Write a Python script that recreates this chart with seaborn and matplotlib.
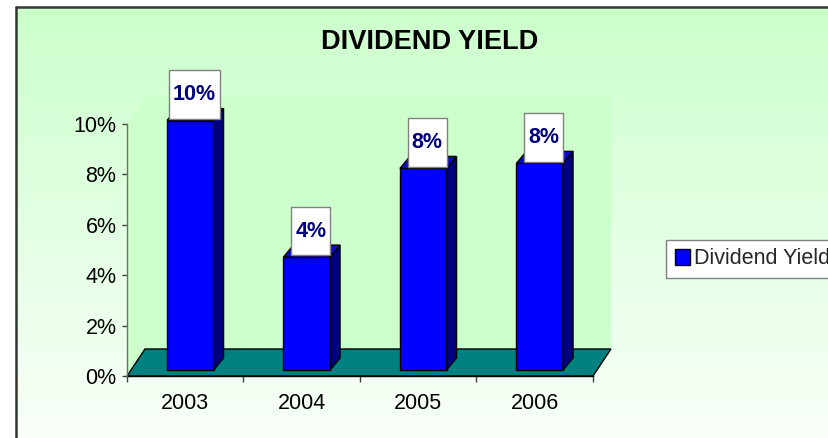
import numpy as np
import pandas as pd
import matplotlib
matplotlib.use("Agg")
import matplotlib.pyplot as plt
from matplotlib.patches import Polygon, Patch
from matplotlib.lines import Line2D
from matplotlib.path import Path
from matplotlib.transforms import Affine2D
import seaborn as sns

# ---- data ----
years = ["2003", "2004", "2005", "2006"]
dividend_yield = [0.099, 0.0448, 0.080, 0.082]
series_name = "Dividend Yield"
title = "DIVIDEND YIELD"
y_ticks = [0.0, 0.02, 0.04, 0.06, 0.08, 0.10]

df = pd.DataFrame({"year": years, "yield": dividend_yield})

sns.set_style("white")
plt.rcParams["font.family"] = ["Liberation Sans", "DejaVu Sans"]

W, H, DPI = 829, 438, 100
fig = plt.figure(figsize=(W / DPI, H / DPI), dpi=DPI)
fig.patch.set_facecolor("white")

# ---- gradient background inside the chart border ----
bx0, by_top = 16, 7
bg = fig.add_axes([bx0 / W, 0, 1 - bx0 / W, 1 - by_top / H], zorder=-10)
top_c = np.array([204, 255, 204]) / 255
bot_c = np.array([249, 255, 249]) / 255
t = np.linspace(0, 1, 256)[:, None]
grad = top_c[None, :] * (1 - t) + bot_c[None, :] * t
bg.imshow(grad[:, None, :], aspect="auto", extent=[0, 1, 0, 1])
bg.set_axis_off()

fig.add_artist(Line2D([bx0 / W, bx0 / W], [0, 1 - by_top / H], color="#333833", lw=1.8))
fig.add_artist(Line2D([bx0 / W, 1], [1 - by_top / H, 1 - by_top / H], color="#333833", lw=1.8))

# ---- plot area (front plane of the 3-D box) ----
L, R, B, T = 127, 593, 376, 124
ax = fig.add_axes([L / W, 1 - B / H, (R - L) / W, (B - T) / H])
ax.set_xlim(-0.5, 3.5)
ax.set_ylim(0, 0.10)
ax.patch.set_visible(False)

px_x = 4.0 / (R - L)          # data units per pixel, horizontally
px_y = 0.10 / (B - T)         # data units per pixel, vertically

# depth of the floor / walls and of the bars
DX, DY = 18 * px_x, 27 * px_y
SX, SY = 5 * px_x, 6 * px_y
BDX, BDY = 10 * px_x, 12 * px_y

wall_c = "#CCFFCC"
# back wall
ax.add_patch(Polygon([(-0.5 + DX, DY), (3.5 + DX, DY), (3.5 + DX, 0.10 + DY), (-0.5 + DX, 0.10 + DY)],
                     closed=True, facecolor=wall_c, edgecolor="none", clip_on=False, zorder=0.5))
# side wall
ax.add_patch(Polygon([(-0.5, 0), (-0.5 + DX, DY), (-0.5 + DX, 0.10 + DY), (-0.5, 0.10)],
                     closed=True, facecolor=wall_c, edgecolor="none", clip_on=False, zorder=0.5))
# floor
ax.add_patch(Polygon([(-0.5, 0), (3.5, 0), (3.5 + DX, DY), (-0.5 + DX, DY)],
                     closed=True, facecolor="#008080", edgecolor="black", lw=1.0,
                     clip_on=False, zorder=1))

# ---- bars ----
sns.barplot(data=df, x="year", y="yield", color="#0000FF", width=0.4,
            saturation=1, edgecolor="black", linewidth=1.0, ax=ax, zorder=3)

shift = Affine2D().translate(SX, SY) + ax.transData
bars = list(ax.patches)[-len(years):]
for bar, v in zip(bars, dividend_yield):
    bar.set_transform(shift)
    bar.set_clip_on(False)
    x0 = bar.get_x()
    x1 = x0 + bar.get_width()
    # side face
    ax.add_patch(Polygon([(x1, 0), (x1 + BDX, BDY), (x1 + BDX, v + BDY), (x1, v)],
                         closed=True, facecolor="#000080", edgecolor="black", lw=1.0,
                         transform=shift, clip_on=False, zorder=3))
    # top face
    ax.add_patch(Polygon([(x0, v), (x1, v), (x1 + BDX, v + BDY), (x0 + BDX, v + BDY)],
                         closed=True, facecolor="#0A0AD0", edgecolor="black", lw=1.0,
                         transform=shift, clip_on=False, zorder=3))


def label_box(x0, y0, width, height, mutation_size):
    padx = 0.19 * mutation_size
    pady = 0.64 * mutation_size
    verts = [(x0 - padx, y0 - pady), (x0 + width + padx, y0 - pady),
             (x0 + width + padx, y0 + height + pady), (x0 - padx, y0 + height + pady),
             (x0 - padx, y0 - pady)]
    return Path(verts, closed=True)


for bar, v in zip(bars, dividend_yield):
    cx = bar.get_x() + bar.get_width() / 2
    ax.annotate(f"{v:.0%}", xy=(cx, v), xycoords=shift,
                xytext=(4, 26), textcoords="offset pixels",
                ha="center", va="center", fontsize=15.5, fontweight="bold",
                color="#000080", zorder=5, annotation_clip=False,
                bbox=dict(boxstyle=label_box, facecolor="white",
                          edgecolor="#808080", lw=1.0))

# ---- axes styling ----
for s in ["top", "right"]:
    ax.spines[s].set_visible(False)
ax.spines["left"].set_color("#707070")
ax.spines["left"].set_linewidth(1.0)
ax.spines["bottom"].set_color("black")
ax.spines["bottom"].set_linewidth(1.0)
ax.spines["bottom"].set_zorder(2)

ax.set_yticks(y_ticks)
ax.set_yticklabels([f"{v:.0%}" for v in y_ticks])
ax.tick_params(axis="y", length=3.6, width=1.0, color="#404040", pad=4,
               labelsize=15.5, labelcolor="black", direction="out", left=True)
ax.set_xticks(range(len(years)))
ax.set_xticklabels(years)
ax.set_xticks(np.arange(-0.5, len(years), 1.0), minor=True)
ax.tick_params(axis="x", which="major", length=0, pad=12, labelsize=15.5, labelcolor="black")
ax.tick_params(axis="x", which="minor", length=4, width=1.0, color="#404040",
               direction="out", bottom=True)
ax.set_xlabel("")
ax.set_ylabel("")
ax.grid(False)

# ---- title ----
fig.text(430 / W, 1 - 42 / H, title, ha="center", va="center",
         fontsize=19.5, fontweight="bold", color="black")

# ---- legend ----
handle = Patch(facecolor="#0000FF", edgecolor="black", lw=1.0)
fig.legend([handle], [series_name], loc="center left",
           bbox_to_anchor=(666 / W, 1 - 259 / H), frameon=True, fancybox=False,
           edgecolor="#808080", facecolor="white", framealpha=1,
           fontsize=15.5, handlelength=0.7, handleheight=0.8, handletextpad=0.2,
           borderpad=0.4, borderaxespad=0)

fig.savefig("out.png", dpi=DPI)
